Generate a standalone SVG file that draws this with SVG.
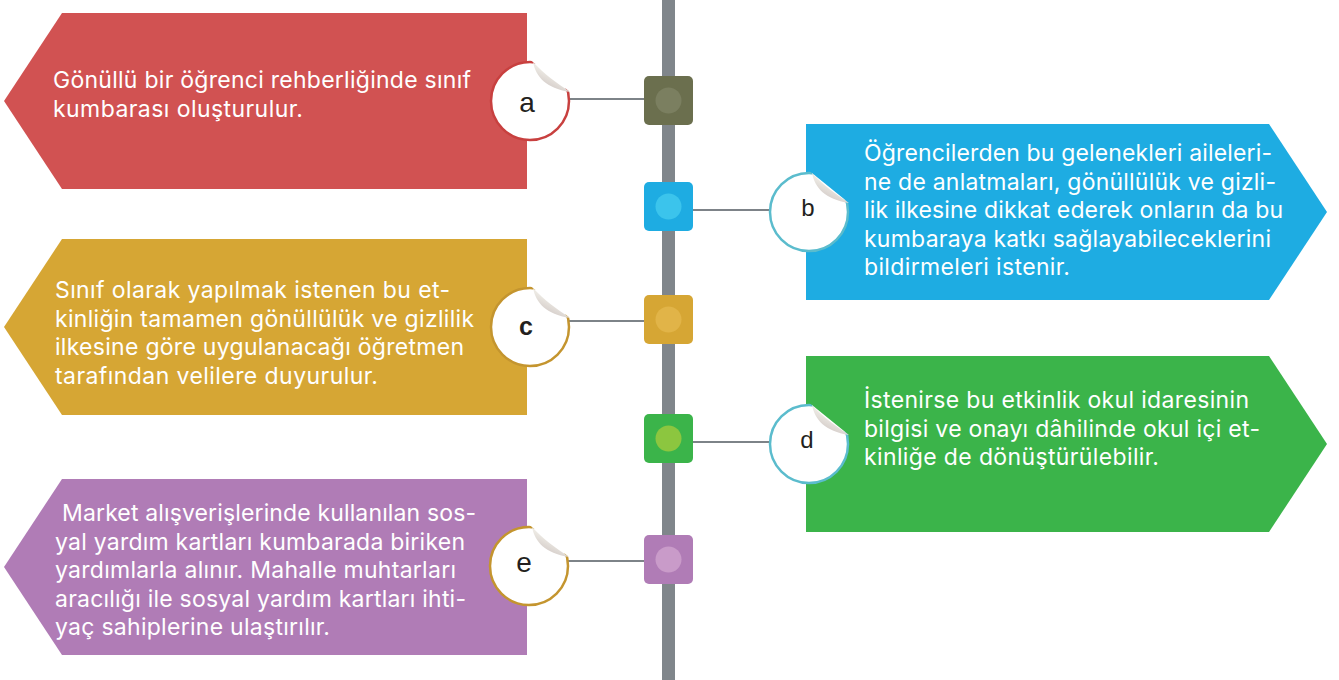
<svg xmlns="http://www.w3.org/2000/svg" width="1339" height="680" viewBox="0 0 1339 680">
<style>
.body{font-family:Inter,"Open Sans","Liberation Sans",sans-serif;font-size:23px;fill:#ffffff}
.lbl{font-family:"Liberation Sans",Arial,sans-serif;fill:#231f20;text-anchor:middle}
.conn{stroke:#7d8388;stroke-width:2;fill:none}
.fold{fill:url(#foldGrad)}
.bubble{fill:#ffffff;stroke-width:2.5}
</style>
<defs>
<linearGradient id="foldGrad" x1="0.8" y1="0.1" x2="0.3" y2="0.9">
<stop offset="0" stop-color="#f4f2ed"/>
<stop offset="0.45" stop-color="#ece9e3"/>
<stop offset="1" stop-color="#cfc6c3"/>
</linearGradient>
<clipPath id="cut" clipPathUnits="userSpaceOnUse">
<polygon points="-71,-99 114,51 114,120 -120,120 -120,-99"/>
</clipPath>
<path id="curl" d="M3,-39 C6,-24 16,-13 40,-9 C27,-18 14,-27 3,-39 Z"/>
</defs>
<rect x="0" y="0" width="1339" height="680" fill="#ffffff"/>
<rect id="spine" x="662" y="0" width="13" height="680" fill="#80868b"/>
<g id="connectors">
<line class="conn" x1="569" y1="99" x2="644" y2="99"/>
<line class="conn" x1="693" y1="210" x2="770" y2="210"/>
<line class="conn" x1="569" y1="321" x2="644" y2="321"/>
<line class="conn" x1="693" y1="442" x2="770" y2="442"/>
<line class="conn" x1="568" y1="561" x2="644" y2="561"/>
</g>
<g id="node-a">
<polygon points="62,13 527,13 527,189 62,189 4,101" fill="#d15252"/>
<text class="body" lengthAdjust="spacing"><tspan x="53" y="88" textLength="418">Gönüllü bir öğrenci rehberliğinde sınıf</tspan><tspan x="53" y="116.5" textLength="250">kumbarası oluşturulur.</tspan></text>
<g transform="translate(530,101)"><circle class="bubble" r="39" stroke="#c8403f" clip-path="url(#cut)"/><use href="#curl" class="fold"/></g>
<text class="lbl" x="527" y="112" font-size="28">a</text>
<rect x="644" y="76" width="49" height="49" rx="5" fill="#6b6f4e"/>
<circle cx="668.5" cy="100.5" r="13" fill="#7b7f60"/>
</g>
<g id="node-b">
<polygon points="806,124 1269,124 1327,212 1269,300 806,300" fill="#1eace2"/>
<text class="body"><tspan x="864" y="161" textLength="408">Öğrencilerden bu gelenekleri aileleri-</tspan><tspan x="864" y="189.5" textLength="412">ne de anlatmaları, gönüllülük ve gizli-</tspan><tspan x="864" y="218" textLength="419">lik ilkesine dikkat ederek onların da bu</tspan><tspan x="864" y="246.5" textLength="407">kumbaraya katkı sağlayabileceklerini</tspan><tspan x="864" y="275" textLength="206">bildirmeleri istenir.</tspan></text>
<g transform="translate(809,212)"><circle class="bubble" r="39" stroke="#5bbccd" clip-path="url(#cut)"/><use href="#curl" class="fold"/></g>
<text class="lbl" x="808" y="216" font-size="24">b</text>
<rect x="644" y="182" width="49" height="49" rx="5" fill="#1eace2"/>
<circle cx="668.5" cy="206.5" r="13" fill="#3bc4ec"/>
</g>
<g id="node-c">
<polygon points="62,239 527,239 527,415 62,415 4,327" fill="#d6a634"/>
<text class="body"><tspan x="55" y="298" textLength="395">Sınıf olarak yapılmak istenen bu et-</tspan><tspan x="55" y="326.5" textLength="419">kinliğin tamamen gönüllülük ve gizlilik</tspan><tspan x="55" y="355" textLength="409">ilkesine göre uygulanacağı öğretmen</tspan><tspan x="55" y="383.5" textLength="323">tarafından velilere duyurulur.</tspan></text>
<g transform="translate(530,327)"><circle class="bubble" r="39" stroke="#c4952f" clip-path="url(#cut)"/><use href="#curl" class="fold"/></g>
<text class="lbl" x="526" y="335" font-size="25" font-weight="bold">c</text>
<rect x="644" y="295" width="49" height="49" rx="5" fill="#d6a634"/>
<circle cx="668.5" cy="319.5" r="13" fill="#e1b448"/>
</g>
<g id="node-d">
<polygon points="806,356 1269,356 1327,444 1269,532 806,532" fill="#3bb44a"/>
<text class="body"><tspan x="864" y="408" textLength="385">İstenirse bu etkinlik okul idaresinin</tspan><tspan x="864" y="436.5" textLength="396">bilgisi ve onayı dâhilinde okul içi et-</tspan><tspan x="864" y="465" textLength="295">kinliğe de dönüştürülebilir.</tspan></text>
<g transform="translate(809,444)"><circle class="bubble" r="39" stroke="#5bbccd" clip-path="url(#cut)"/><use href="#curl" class="fold"/></g>
<text class="lbl" x="807" y="448" font-size="24">d</text>
<rect x="644" y="414" width="49" height="49" rx="5" fill="#3bb44a"/>
<circle cx="668.5" cy="438.5" r="13" fill="#8cc63f"/>
</g>
<g id="node-e">
<polygon points="62,479 527,479 527,655 62,655 4,567" fill="#b07cb6"/>
<text class="body"><tspan x="62" y="521" textLength="414">Market alışverişlerinde kullanılan sos-</tspan><tspan x="55" y="549.5" textLength="410">yal yardım kartları kumbarada biriken</tspan><tspan x="55" y="578" textLength="401">yardımlarla alınır. Mahalle muhtarları</tspan><tspan x="55" y="606.5" textLength="411">aracılığı ile sosyal yardım kartları ihti-</tspan><tspan x="55" y="635" textLength="275">yaç sahiplerine ulaştırılır.</tspan></text>
<g transform="translate(529,566)"><circle class="bubble" r="39" stroke="#c4952f" clip-path="url(#cut)"/><use href="#curl" class="fold"/></g>
<text class="lbl" x="524" y="572" font-size="28">e</text>
<rect x="644" y="535" width="49" height="49" rx="5" fill="#b07cb6"/>
<circle cx="668.5" cy="559.5" r="13" fill="#c99bc9"/>
</g>
</svg>
